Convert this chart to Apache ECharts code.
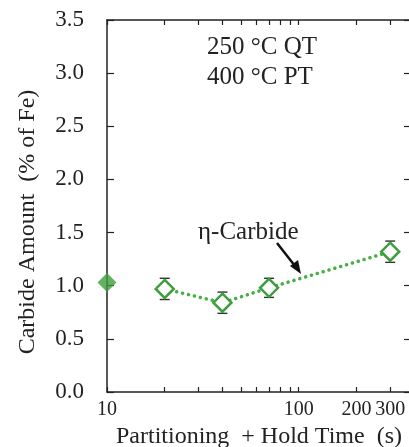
<html>
<head>
<meta http-equiv="Content-Type" content="text/html; charset=utf-8">
<script type="text/javascript" src="https://cdn.jsdelivr.net/npm/echarts@6/dist/echarts.min.js"></script>
<style>
html, body { margin: 0; padding: 0; background: #fff; }
#main { width: 409px; height: 447px; }
</style>
</head>
<body>
<div id="main"></div>
<script type="text/javascript">
// 数据
var qtTime = [10];
var qtAmount = [1.03];
var ptTime = [20, 40, 70, 300];
var ptAmount = [0.97, 0.84, 0.98, 1.32];
var ptError = [0.1, 0.1, 0.09, 0.1];
var xTicks = [10, 20, 30, 40, 50, 60, 70, 80, 90, 100, 200, 300];
var xLabels = [10, 100, 200, 300];

var serif = '"Liberation Serif", "DejaVu Serif", serif';
var green = '#3d9e3d';
var axisColor = '#222';

var xBase = {
	type: 'log',
	logBase: 10,
	min: 10,
	max: 385,
	axisLine: { show: true, onZero: false, lineStyle: { color: axisColor, width: 1.5 } },
	axisTick: { show: true, inside: true, length: 5, customValues: xTicks, lineStyle: { color: axisColor, width: 1.2 } },
	splitLine: { show: false },
	minorTick: { show: false }
};

var yBase = {
	type: 'value',
	min: 0,
	max: 3.5,
	interval: 0.5,
	axisLine: { show: true, onZero: false, lineStyle: { color: axisColor, width: 1.5 } },
	axisTick: { show: true, inside: true, length: 7, lineStyle: { color: axisColor, width: 1.2 } },
	splitLine: { show: false }
};

var myChart = echarts.init(document.getElementById('main'));
var option = {
	animation: false,
	backgroundColor: '#fff',
	grid: { left: 107, top: 20, right: -2, bottom: 55, outerBoundsMode: 'none', containLabel: false },
	xAxis: [
		Object.assign({}, xBase, {
			position: 'bottom',
			name: 'Partitioning  + Hold Time  (s)',
			nameLocation: 'middle',
			nameGap: 30,
			nameTextStyle: { fontFamily: serif, fontSize: 24, color: '#222' },
			axisLabel: {
				customValues: xLabels,
				margin: 8,
				fontFamily: serif,
				fontSize: 20,
				color: '#222',
				hideOverlap: false,
				showMinLabel: true,
				showMaxLabel: true
			}
		}),
		Object.assign({}, xBase, {
			position: 'top',
			axisLabel: { show: false }
		})
	],
	yAxis: [
		Object.assign({}, yBase, {
			position: 'left',
			name: 'Carbide Amount  (% of Fe)',
			nameLocation: 'middle',
			nameGap: 67,
			nameTextStyle: { fontFamily: serif, fontSize: 24, color: '#222', padding: [0, 32, 0, 0] },
			axisLabel: {
				margin: 23,
				fontFamily: serif,
				fontSize: 23,
				color: '#222',
				formatter: function (v) { return v.toFixed(1); }
			}
		}),
		Object.assign({}, yBase, {
			position: 'right',
			axisLabel: { show: false }
		})
	],
	series: [
		{
			name: 'PT',
			type: 'line',
			data: ptTime.map(function (t, i) { return [t, ptAmount[i]]; }),
			symbol: 'diamond',
			symbolSize: 18,
			clip: false,
			z: 3,
			lineStyle: { color: '#45b045', width: 3.5, type: [0.1, 6], cap: 'round' },
			itemStyle: { color: '#fff', borderColor: green, borderWidth: 2.5 }
		},
		{
			name: 'error',
			type: 'custom',
			z: 2,
			data: ptTime.map(function (t, i) { return [t, ptAmount[i] - ptError[i], ptAmount[i] + ptError[i]]; }),
			renderItem: function (params, api) {
				var lo = api.coord([api.value(0), api.value(1)]);
				var hi = api.coord([api.value(0), api.value(2)]);
				var w = 5;
				var st = { stroke: '#333', lineWidth: 1.4 };
				return {
					type: 'group',
					children: [
						{ type: 'line', shape: { x1: lo[0], y1: lo[1], x2: hi[0], y2: hi[1] }, style: st },
						{ type: 'line', shape: { x1: lo[0] - w, y1: lo[1], x2: lo[0] + w, y2: lo[1] }, style: st },
						{ type: 'line', shape: { x1: hi[0] - w, y1: hi[1], x2: hi[0] + w, y2: hi[1] }, style: st }
					]
				};
			}
		},
		{
			name: 'QT',
			type: 'scatter',
			data: qtTime.map(function (t, i) { return [t, qtAmount[i]]; }),
			symbol: 'diamond',
			symbolSize: 19,
			clip: false,
			z: 4,
			itemStyle: { color: green }
		}
	],
	graphic: [
		{ type: 'text', left: 207, top: 35, style: { text: '250 °C QT', font: '25px ' + serif, fill: '#222' } },
		{ type: 'text', left: 207, top: 65, style: { text: '400 °C PT', font: '25px ' + serif, fill: '#222' } },
		{ type: 'text', left: 198, top: 220, style: { text: 'η-Carbide', font: '25px ' + serif, fill: '#222' } },
		{ type: 'line', shape: { x1: 277, y1: 243, x2: 295, y2: 266 }, style: { stroke: '#111', lineWidth: 2.5 } },
		{ type: 'polygon', shape: { points: [[301, 274], [290, 266], [298, 260]] }, style: { fill: '#111' } }
	]
};
myChart.setOption(option);
</script>
</body>
</html>
